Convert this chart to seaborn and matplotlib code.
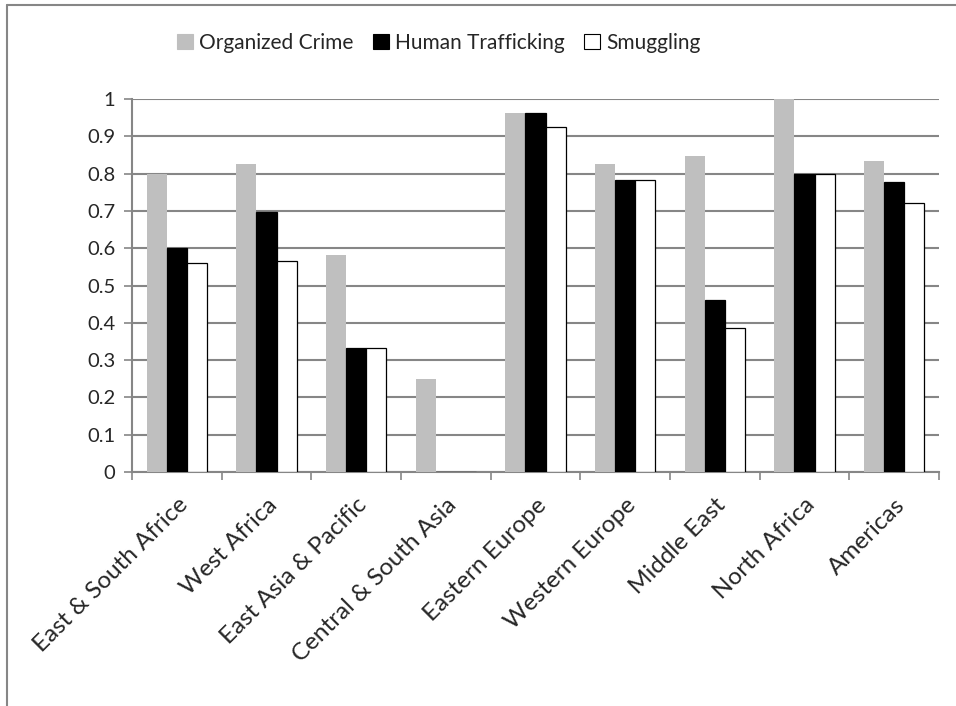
import numpy as np
import pandas as pd
import matplotlib
matplotlib.use("Agg")
import matplotlib.pyplot as plt
import seaborn as sns
from matplotlib.lines import Line2D

regions = ["East & South Africe", "West Africa", "East Asia & Pacific",
           "Central & South Asia", "Eastern Europe", "Western Europe",
           "Middle East", "North Africa", "Americas"]
organized_crime = [0.80, 0.826, 0.583, 0.25, 0.962, 0.826, 0.846, 1.0, 0.833]
human_trafficking = [0.60, 0.696, 0.333, 0.0, 0.962, 0.783, 0.462, 0.80, 0.778]
smuggling = [0.56, 0.565, 0.333, 0.0, 0.925, 0.783, 0.385, 0.80, 0.722]
series = ["Organized Crime", "Human Trafficking", "Smuggling"]
colors = ["#BFBFBF", "#000000", "#FFFFFF"]

df = pd.DataFrame({
    "region": regions * 3,
    "value": organized_crime + human_trafficking + smuggling,
    "series": np.repeat(series, len(regions)),
})

sns.set_style("white")
plt.rcParams["font.family"] = ["Lato", "DejaVu Sans"]

fig = plt.figure(figsize=(9.56, 7.06), dpi=100)
ax = fig.add_axes([132 / 956, 1 - 472 / 706, (939 - 132) / 956, (472 - 99) / 706])

sns.barplot(data=df, x="region", y="value", hue="series", hue_order=series,
            order=regions, palette=colors, width=0.67, saturation=1,
            ax=ax, legend=False, zorder=3)

# edges: grey bars plain, black and white bars outlined
for cont, col in zip(ax.containers, colors):
    for p in cont:
        if col == "#BFBFBF":
            p.set_edgecolor("none")
        else:
            p.set_edgecolor("black")
            p.set_linewidth(0.9)

ax.set_ylim(0, 1)
ax.set_xlim(-0.5, len(regions) - 0.5)
ax.set_yticks(np.arange(0, 1.01, 0.1))
ax.set_yticklabels(["0"] + [f"{v:.1f}" for v in np.arange(0.1, 0.95, 0.1)] + ["1"])
ax.yaxis.grid(True, color="#868686", linewidth=1.5, zorder=0)
ax.set_axisbelow(True)
ax.set_xlabel("")
ax.set_ylabel("")

# category ticks sit between groups
ax.set_xticks(np.arange(len(regions)))
ax.set_xticklabels(regions, rotation=45, ha="right", rotation_mode="anchor")
ax.set_xticks(np.arange(-0.5, len(regions), 1), minor=True)
ax.tick_params(axis="x", which="major", length=0, pad=16, labelsize=17.5)
ax.tick_params(axis="x", which="minor", length=6, width=1.2, color="#868686",
               direction="out", bottom=True)
ax.tick_params(axis="y", length=6, width=1.2, color="#868686", direction="out",
               left=True, pad=6, labelsize=14.5)

for s in ["top", "right"]:
    ax.spines[s].set_visible(False)
for s in ["left", "bottom"]:
    ax.spines[s].set_color("#868686")
    ax.spines[s].set_linewidth(1.5)

handles = [plt.Rectangle((0, 0), 1, 1, facecolor=c,
                         edgecolor="black" if c == "#FFFFFF" else c, linewidth=0.8)
           for c in colors]
fig.legend(handles, series, loc="center", bbox_to_anchor=(0.459, 1 - 43 / 706),
           ncol=3, frameon=False, fontsize=15, handlelength=0.75,
           handleheight=0.75, handletextpad=0.3, columnspacing=0.95)

# chart frame
fig.add_artist(Line2D([7 / 956, 1], [1 - 5 / 706, 1 - 5 / 706],
                      transform=fig.transFigure, color="#868686", linewidth=1.5))
fig.add_artist(Line2D([7 / 956, 7 / 956], [0, 1 - 5 / 706],
                      transform=fig.transFigure, color="#868686", linewidth=1.5))

fig.savefig("out.png", dpi=100)
